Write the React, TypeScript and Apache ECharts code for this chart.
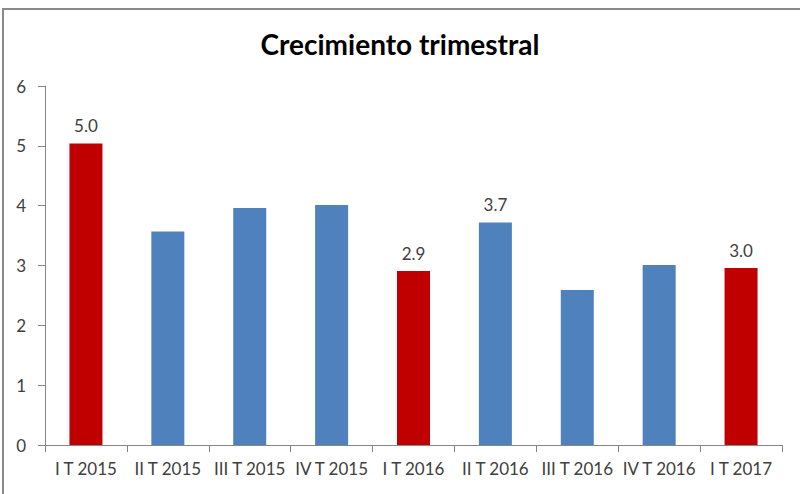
import React, { useEffect, useRef } from "react";
import * as echarts from "echarts";

const categories = [
  "I T 2015",
  "II T 2015",
  "III T 2015",
  "IV T 2015",
  "I T 2016",
  "II T 2016",
  "III T 2016",
  "IV T 2016",
  "I T 2017",
];
const values = [5.04, 3.57, 3.96, 4.01, 2.91, 3.72, 2.59, 3.01, 2.96];
const highlighted = [true, false, false, false, true, false, false, false, true];
const labeled = [true, false, false, false, true, true, false, false, true];
const yTicks = [0, 1, 2, 3, 4, 5, 6];

const RED = "#C00000";
const BLUE = "#4F81BD";
const FONT = "Lato, 'Open Sans', sans-serif";

export default function App() {
  const ref = useRef<HTMLDivElement>(null);
  useEffect(() => {
    if (!ref.current) return;
    const chart = echarts.init(ref.current, undefined, { renderer: "svg" });
    chart.setOption({
      animation: false,
      backgroundColor: "#ffffff",
      title: {
        text: "Crecimiento trimestral",
        left: "center",
        top: 25,
        textStyle: {
          fontFamily: FONT,
          fontWeight: "bold",
          fontSize: 28,
          color: "#000000",
        },
      },
      graphic: [
        {
          type: "rect",
          shape: { x: 3, y: 9, width: 820, height: 520 },
          style: { fill: "none", stroke: "#8a8a8a", lineWidth: 2 },
          silent: true,
        },
      ],
      grid: { left: 45, right: 18, top: 86, bottom: 49, containLabel: false },
      xAxis: {
        type: "category",
        data: categories,
        axisLine: { show: true, lineStyle: { color: "#868686", width: 1 } },
        axisTick: { show: true, length: 7, lineStyle: { color: "#868686" } },
        axisLabel: {
          fontFamily: FONT,
          fontSize: 17,
          color: "#404040",
          margin: 15,
          interval: 0,
        },
      },
      yAxis: {
        type: "value",
        min: yTicks[0],
        max: yTicks[yTicks.length - 1],
        interval: 1,
        splitLine: { show: false },
        axisLine: { show: true, lineStyle: { color: "#868686", width: 1 } },
        axisTick: { show: true, length: 7, lineStyle: { color: "#868686" } },
        axisLabel: {
          fontFamily: FONT,
          fontSize: 17,
          color: "#404040",
          margin: 19,
        },
      },
      series: [
        {
          type: "bar",
          barWidth: 33,
          data: values.map((v, i) => ({
            value: v,
            itemStyle: { color: highlighted[i] ? RED : BLUE },
            label: {
              show: labeled[i],
              position: "top",
              distance: 9,
              formatter: (p: any) => Number(p.value).toFixed(1),
              fontFamily: FONT,
              fontSize: 17,
              color: "#404040",
            },
          })),
        },
      ],
    });
    return () => chart.dispose();
  }, []);
  return (
    <div
      ref={ref}
      style={{ position: "fixed", left: 0, top: 0, width: 800, height: 494 }}
    />
  );
}
